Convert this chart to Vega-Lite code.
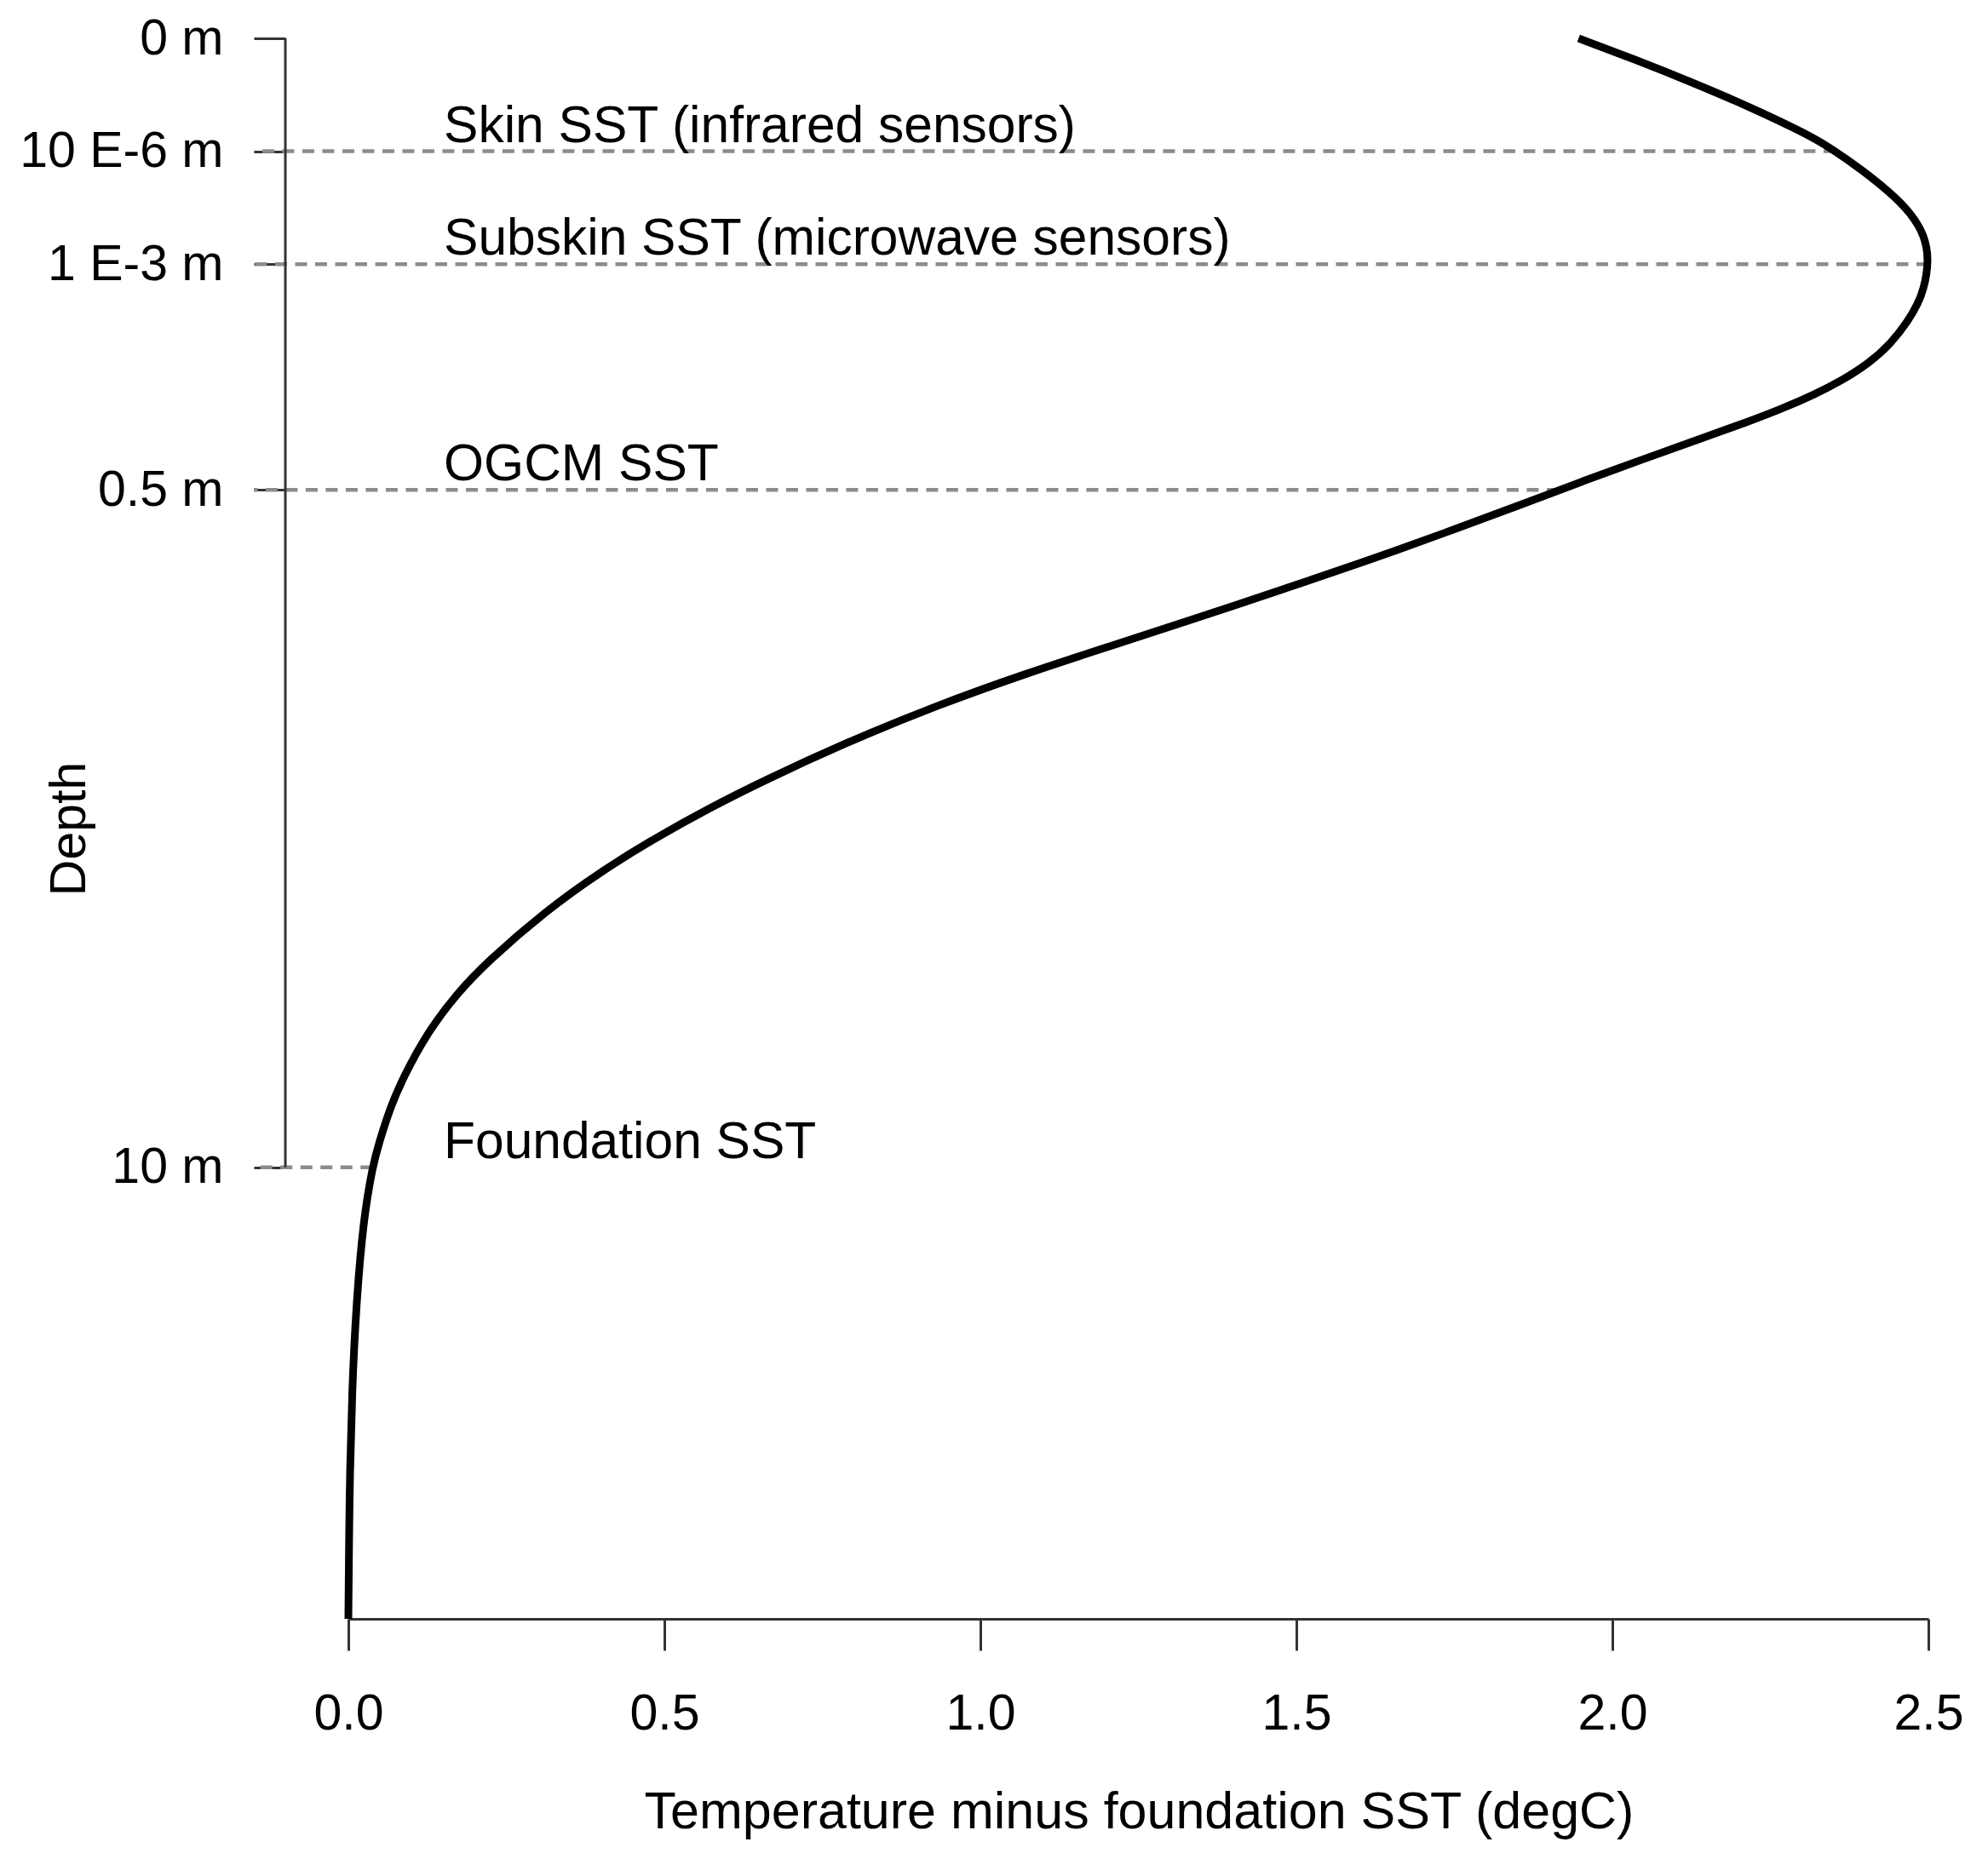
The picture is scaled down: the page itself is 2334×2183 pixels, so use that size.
{
  "$schema": "https://vega.github.io/schema/vega-lite/v6.json",
  "width": 1855,
  "height": 1856,
  "autosize": {"type": "none"},
  "padding": {"left": 409, "top": 45, "right": 70, "bottom": 282},
  "background": "white",
  "config": {"view": {"stroke": null}, "font": "Liberation Sans", "axis": {"grid": false}},
  "datasets": {
    "profile": [
      {"u": 0, "t": 1.9465}, {"u": 0.1886, "t": 2.0364}, {"u": 0.39, "t": 2.1263}, {"u": 0.6035, "t": 2.216},
      {"u": 0.8425, "t": 2.306}, {"u": 0.973, "t": 2.346}, {"u": 1.169, "t": 2.396}, {"u": 1.3706, "t": 2.4407},
      {"u": 1.546, "t": 2.472}, {"u": 1.748, "t": 2.4946}, {"u": 1.98, "t": 2.501}, {"u": 2.225, "t": 2.4925},
      {"u": 2.35, "t": 2.4835}, {"u": 2.5, "t": 2.4685}, {"u": 2.7027, "t": 2.4411}, {"u": 2.8792, "t": 2.4058},
      {"u": 3.0301, "t": 2.3635}, {"u": 3.1553, "t": 2.3197}, {"u": 3.2812, "t": 2.2681}, {"u": 3.3816, "t": 2.2219},
      {"u": 3.5581, "t": 2.1337}, {"u": 3.7376, "t": 2.0439}, {"u": 3.9224, "t": 1.9533}, {"u": 4.111, "t": 1.8647},
      {"u": 4.3878, "t": 1.7318}, {"u": 4.639, "t": 1.6062}, {"u": 4.8902, "t": 1.4743}, {"u": 5.1542, "t": 1.3317},
      {"u": 5.3933, "t": 1.2002}, {"u": 5.6196, "t": 1.0757}, {"u": 5.9085, "t": 0.9312}, {"u": 6.2479, "t": 0.7836},
      {"u": 6.5851, "t": 0.6538}, {"u": 6.8016, "t": 0.5769}, {"u": 7.0776, "t": 0.4872}, {"u": 7.3794, "t": 0.3997},
      {"u": 7.7316, "t": 0.3116}, {"u": 8.1842, "t": 0.2188}, {"u": 8.461, "t": 0.1717}, {"u": 8.8125, "t": 0.1242},
      {"u": 9.2153, "t": 0.0859}, {"u": 9.4665, "t": 0.0665}, {"u": 9.7932, "t": 0.048}, {"u": 9.9875, "t": 0.0385},
      {"u": 10.47, "t": 0.0235}, {"u": 11.224, "t": 0.0123}, {"u": 11.979, "t": 0.0058}, {"u": 12.733, "t": 0.0024},
      {"u": 13.238, "t": 0.0012}, {"u": 14.0, "t": 0.0}
    ],
    "levels": [
      {"u": 1, "t_end": 2.353, "label": "Skin SST (infrared sensors)"},
      {"u": 2, "t_end": 2.5, "label": "Subskin SST (microwave sensors)"},
      {"u": 4, "t_end": 1.915, "label": "OGCM SST"},
      {"u": 10, "t_end": 0.038, "label": "Foundation SST"}
    ],
    "axisrange": [{"u_top": 0, "u_bottom": 10}]
  },
  "layer": [
    {
      "data": {"name": "levels"},
      "mark": {"type": "rule", "color": "#8c8c8c", "strokeWidth": 4.5, "strokeDash": [14, 9.5]},
      "encoding": {
        "x": {"field": "t_end", "type": "quantitative"},
        "x2": {"datum": -0.1496},
        "y": {"field": "u", "type": "quantitative"}
      }
    },
    {
      "data": {"name": "profile"},
      "mark": {"type": "line", "color": "#000000", "strokeWidth": 9, "interpolate": "basis"},
      "encoding": {
        "x": {
          "field": "t", "type": "quantitative",
          "scale": {"domain": [0, 2.5], "nice": false, "zero": false},
          "axis": {
            "values": [0, 0.5, 1, 1.5, 2, 2.5], "format": ".1f",
            "tickSize": 37, "tickWidth": 3, "tickColor": "#333333",
            "domainColor": "#333333", "domainWidth": 3,
            "labelPadding": 45, "labelFontSize": 59, "labelColor": "#000000", "labelFlush": false,
            "title": "Temperature minus foundation SST (degC)",
            "titleFontSize": 61, "titleFontWeight": "normal", "titleColor": "#000000",
            "titleX": 928, "titleY": 245, "titleBaseline": "alphabetic", "titleAlign": "center"
          }
        },
        "y": {
          "field": "u", "type": "quantitative",
          "scale": {"domain": [0, 14], "nice": false, "zero": false, "reverse": true},
          "axis": {
            "values": [0, 1, 2, 4, 10],
            "labelExpr": "datum.value == 0 ? '0 m' : datum.value == 1 ? '10 E-6 m' : datum.value == 2 ? '1 E-3 m' : datum.value == 4 ? '0.5 m' : '10 m'",
            "offset": 74, "domain": false,
            "tickSize": 37, "tickWidth": 3, "tickColor": "#333333",
            "labelPadding": 36, "labelFontSize": 59, "labelColor": "#000000", "labelFlush": false, "labelOverlap": false, "labelLimit": 0,
            "title": "Depth", "titleFontSize": 59, "titleFontWeight": "normal", "titleColor": "#000000",
            "titleX": -224, "titleY": 928, "titleAngle": 270, "titleBaseline": "bottom", "titleAlign": "center"
          }
        },
        "order": {"field": "u", "type": "quantitative"}
      }
    },
    {
      "data": {"name": "axisrange"},
      "mark": {"type": "rule", "color": "#333333", "strokeWidth": 3},
      "encoding": {
        "x": {"datum": -0.0997, "type": "quantitative"},
        "y": {"field": "u_top", "type": "quantitative"},
        "y2": {"field": "u_bottom"}
      }
    },
    {
      "data": {"name": "levels"},
      "mark": {"type": "text", "align": "left", "baseline": "alphabetic", "dy": -11, "fontSize": 60.5, "color": "#000000"},
      "encoding": {
        "x": {"datum": 0.151, "type": "quantitative"},
        "y": {"field": "u", "type": "quantitative"},
        "text": {"field": "label"}
      }
    }
  ]
}
